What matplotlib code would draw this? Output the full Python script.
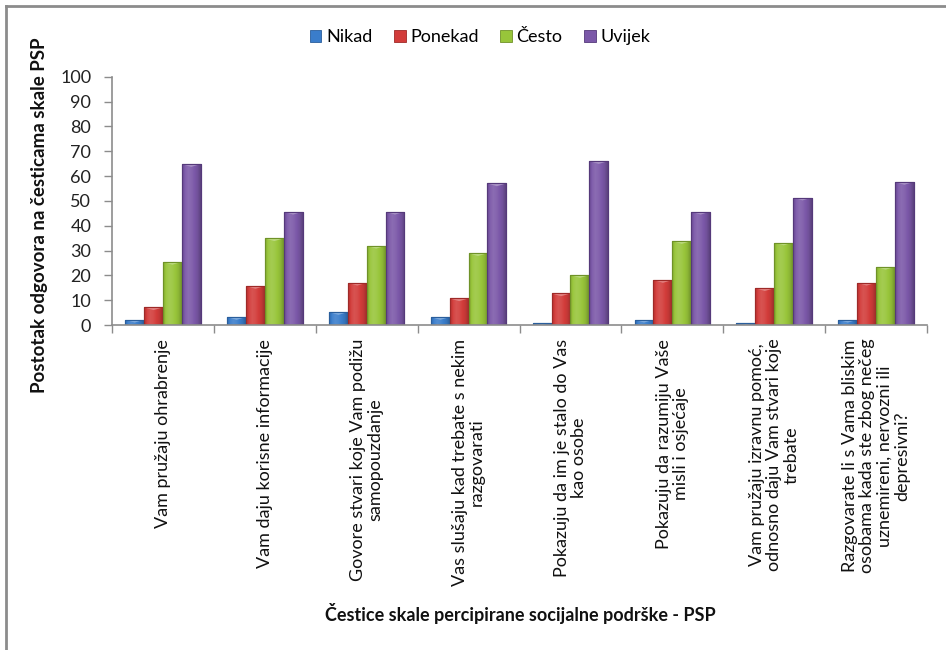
import matplotlib
matplotlib.use("Agg")
import matplotlib.pyplot as plt
import numpy as np
from matplotlib.patches import Patch, Polygon
from matplotlib.lines import Line2D
from matplotlib.colors import to_rgb

categories = [
    "Vam pružaju ohrabrenje",
    "Vam daju korisne informacije",
    "Govore stvari koje Vam podižu\nsamopouzdanje",
    "Vas slušaju kad trebate s nekim\nrazgovarati",
    "Pokazuju da im je stalo do Vas\nkao osobe",
    "Pokazuju da razumiju Vaše\nmisli i osjećaje",
    "Vam pružaju izravnu pomoć,\nodnosno daju Vam stvari koje\ntrebate",
    "Razgovarate li s Vama bliskim\nosobama kada ste zbog nečeg\nuznemireni, nervozni ili\ndepresivni?",
]
series_names = ["Nikad", "Ponekad", "Često", "Uvijek"]
nikad = [2.1, 3.2, 5.2, 3.2, 0.9, 2.1, 0.9, 2.1]
ponekad = [7.1, 15.7, 17.0, 10.7, 12.7, 18.1, 14.8, 17.0]
cesto = [25.4, 34.9, 31.9, 28.9, 20.1, 33.8, 33.2, 23.4]
uvijek = [64.8, 45.6, 45.6, 57.0, 66.0, 45.6, 51.3, 57.6]
y_ticks = [0, 10, 20, 30, 40, 50, 60, 70, 80, 90, 100]

colors = ["#3A7DCB", "#D23C3A", "#98C53A", "#7B58A8"]
edges = ["#2A5E9C", "#9E2A28", "#6F9228", "#55397A"]

plt.rcParams["font.family"] = ["Lato", "DejaVu Sans"]
axis_gray = "#8C8C8C"
text_col = "#111111"


def shade(rgb, f):
    rgb = np.array(rgb)
    if f >= 0:
        return rgb + (1 - rgb) * f
    return rgb * (1 + f)


fig = plt.figure(figsize=(9.46, 6.5), dpi=100)
ax = fig.add_axes([112 / 946, 0.5, (927 - 112) / 946, 0.382])

x = np.arange(len(categories))
w = 0.185
all_series = [nikad, ponekad, cesto, uvijek]
profile = np.array([-0.15, 0.05, 0.12, 0.08, 0.0, -0.08, -0.25])
for i, (vals, c, e) in enumerate(zip(all_series, colors, edges)):
    bars = ax.bar(x + (i - 1.5) * w, vals, width=w, color=c, edgecolor=e,
                  linewidth=0.8, zorder=3)
    base = to_rgb(c)
    grad = np.array([[shade(base, f) for f in np.interp(np.linspace(0, 6, 40),
                                                         np.arange(7), profile)]])
    for b in bars:
        x0, y0 = b.get_x(), b.get_y()
        bw, bh = b.get_width(), b.get_height()
        im = ax.imshow(grad, extent=[x0, x0 + bw, y0, y0 + bh], aspect="auto",
                       zorder=3.5, interpolation="bilinear")
        im.set_clip_path(b)
        # bevel highlight at the top of each bar
        cap = min(bw * 0.5 * 12, bh)
        tri = Polygon([[x0, y0 + bh], [x0 + bw, y0 + bh],
                       [x0 + bw / 2, y0 + bh - cap]], closed=True,
                      facecolor=shade(base, 0.35), edgecolor="none", zorder=3.6)
        ax.add_patch(tri)
        tri.set_clip_path(b)
        frame = plt.Rectangle((x0, y0), bw, bh, facecolor="none", edgecolor=e,
                              linewidth=0.8, zorder=3.7)
        ax.add_patch(frame)

ax.set_xlim(-0.5, len(categories) - 0.5)
ax.set_ylim(0, 100)
ax.set_yticks(y_ticks)
ax.set_yticklabels([str(t) for t in y_ticks], fontsize=13, color="#222222")

ax.set_xticks(np.arange(len(categories) + 1) - 0.5)
ax.set_xticklabels([])
ax.tick_params(axis="x", length=6, width=1, color=axis_gray, direction="out")
ax.tick_params(axis="y", length=6, width=1, color=axis_gray, direction="out", pad=9)

for s in ["top", "right"]:
    ax.spines[s].set_visible(False)
for s in ["left", "bottom"]:
    ax.spines[s].set_color(axis_gray)
    ax.spines[s].set_linewidth(1.2)
    ax.spines[s].set_zorder(4)

# rotated category labels hanging below the axis
for xi, lab in zip(x, categories):
    ax.text(xi, -5.5, lab, rotation=90, ha="center", va="top",
            multialignment="center", fontsize=13, color=text_col,
            transform=ax.transData, linespacing=1.1)

fig.text(520 / 946, 1 - 613 / 650, "Čestice skale percipirane socijalne podrške - PSP",
         ha="center", va="center", fontsize=13, fontweight="bold", color=text_col)
fig.text(40 / 946, 1 - 215 / 650, "Postotak odgovora na česticama skale PSP",
         ha="center", va="center", rotation=90, fontsize=13.5, fontweight="bold",
         color=text_col)

handles = [Patch(facecolor=c, edgecolor=e, linewidth=0.6) for c, e in zip(colors, edges)]
fig.legend(handles, series_names, loc="center", bbox_to_anchor=(480 / 946, 1 - 37 / 650),
           ncol=4, frameon=False, fontsize=13, handlelength=0.65, handleheight=0.65,
           handletextpad=0.25, columnspacing=1.2)

# chart frame along the top and left
fig.add_artist(Line2D([5.5 / 946, 1], [1 - 5.5 / 650, 1 - 5.5 / 650],
                      transform=fig.transFigure, color=axis_gray, linewidth=2))
fig.add_artist(Line2D([5.5 / 946, 5.5 / 946], [0, 1 - 5.5 / 650],
                      transform=fig.transFigure, color=axis_gray, linewidth=2))

fig.savefig("out.png", dpi=100)
